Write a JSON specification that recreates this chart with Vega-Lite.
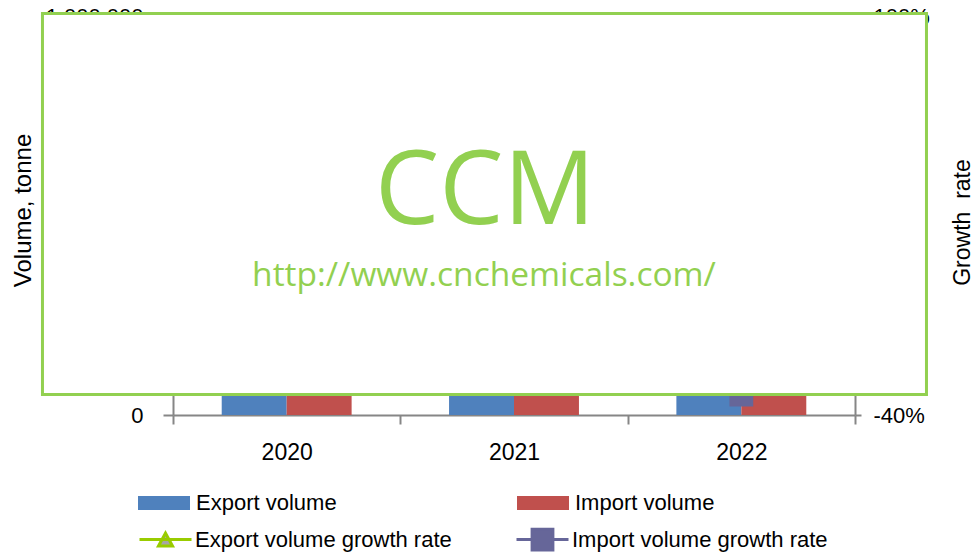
{
  "$schema": "https://vega.github.io/schema/vega-lite/v6.json",
  "width": 682,
  "height": 399,
  "autosize": "none",
  "padding": {"left": 173, "top": 16, "right": 119, "bottom": 137},
  "background": "white",
  "config": {
    "font": "Liberation Sans",
    "view": {"stroke": null},
    "axis": {"labelFont": "Liberation Sans", "labelColor": "#000000", "titleFont": "Liberation Sans", "titleColor": "#000000", "titleFontWeight": "normal", "domainColor": "#868686", "tickColor": "#868686", "domainWidth": 2, "tickWidth": 2, "grid": false},
    "legend": {"labelFont": "Liberation Sans", "labelColor": "#000000", "padding": 0, "labelLimit": 0}
  },
  "datasets": {
    "volume": [
      {"year": "2020", "series": "Export volume", "value": 620000},
      {"year": "2020", "series": "Import volume", "value": 480000},
      {"year": "2021", "series": "Export volume", "value": 705000},
      {"year": "2021", "series": "Import volume", "value": 520000},
      {"year": "2022", "series": "Export volume", "value": 560000},
      {"year": "2022", "series": "Import volume", "value": 349400}
    ],
    "growth": [
      {"year": "2020", "series": "Export volume growth rate", "rate": 0.215},
      {"year": "2021", "series": "Export volume growth rate", "rate": 0.137},
      {"year": "2022", "series": "Export volume growth rate", "rate": -0.206},
      {"year": "2020", "series": "Import volume growth rate", "rate": 0.052},
      {"year": "2021", "series": "Import volume growth rate", "rate": 0.083},
      {"year": "2022", "series": "Import volume growth rate", "rate": -0.328}
    ]
  },
  "layer": [
    {
      "data": {"name": "volume"},
      "mark": {"type": "bar"},
      "encoding": {
        "x": {"field": "year", "type": "nominal", "scale": {"paddingInner": 0, "paddingOuter": 0},
              "axis": {"title": null, "labelAngle": 0, "tickBand": "extent", "tickSize": 9, "labelPadding": 17, "labelFontSize": 23}},
        "xOffset": {"field": "series", "type": "nominal", "scale": {"paddingInner": 0, "paddingOuter": 0.75}},
        "y": {"field": "value", "type": "quantitative", "scale": {"domain": [0, 1000000], "nice": false},
              "axis": {"orient": "left", "title": "Volume, tonne", "format": ",d", "tickCount": 5, "tickSize": 10, "labelPadding": 20, "labelFontSize": 22,
                       "titleFontSize": 24, "titleAngle": -90, "titleX": -143, "titleY": 194, "titleBaseline": "alphabetic", "titleAlign": "center"}},
        "color": {"field": "series", "type": "nominal",
                  "scale": {"domain": ["Export volume", "Import volume"], "range": ["#4F81BD", "#C0504D"]},
                  "legend": {"title": null, "orient": "none", "legendX": -35, "legendY": 461, "direction": "horizontal", "columns": 2, "columnPadding": 180,
                             "symbolType": "M-1,-0.27H1V0.27H-1Z", "symbolSize": 2704, "symbolStrokeWidth": 0, "labelFontSize": 22, "labelOffset": 6}}
      }
    },
    {
      "data": {"name": "growth"},
      "layer": [
        {
          "mark": {"type": "line", "strokeWidth": 3},
          "encoding": {
            "x": {"field": "year", "type": "nominal", "scale": {"type": "point", "padding": 0.5}, "axis": null},
            "y": {"field": "rate", "type": "quantitative", "scale": {"domain": [-0.4, 1.0], "nice": false},
                  "axis": {"orient": "right", "title": "Growth\u00a0 rate", "values": [-0.4, -0.2, 0, 0.2, 0.4, 0.6, 0.8, 1.0],
                           "labelExpr": "replace(format(datum.value, '.0%'), '\u2212', '-')", "tickSize": 6, "labelPadding": 12, "labelFontSize": 22,
                           "titleFontSize": 23, "titleAngle": -90, "titleX": 114, "titleY": 206, "titleBaseline": "alphabetic", "titleAlign": "center"}},
            "stroke": {"field": "series", "type": "nominal",
                       "scale": {"domain": ["Export volume growth rate", "Import volume growth rate"], "range": ["#99CC00", "#666699"]},
                       "legend": {"title": null, "orient": "none", "legendX": -35, "legendY": 496, "direction": "horizontal", "columns": 2, "columnPadding": 58,
                                  "symbolSize": 2704, "symbolStrokeWidth": 3, "labelFontSize": 22, "labelOffset": 2, "labelLimit": 0}}
          }
        },
        {
          "mark": {"type": "point", "filled": true, "opacity": 1, "size": 2704, "strokeWidth": 3},
          "encoding": {
            "x": {"field": "year", "type": "nominal", "scale": {"type": "point", "padding": 0.5}, "axis": null},
            "y": {"field": "rate", "type": "quantitative"},
            "stroke": {"field": "series", "type": "nominal",
                       "legend": {"title": null, "orient": "none", "legendX": -35, "legendY": 496, "direction": "horizontal", "columns": 2, "columnPadding": 58,
                                  "symbolSize": 2704, "symbolStrokeWidth": 3, "labelFontSize": 22, "labelOffset": 2, "labelLimit": 0}},
            "fill": {"field": "series", "type": "nominal",
                     "scale": {"domain": ["Export volume growth rate", "Import volume growth rate"], "range": ["#A6A6A6", "#666699"]},
                     "legend": {"title": null, "orient": "none", "legendX": -35, "legendY": 496, "direction": "horizontal", "columns": 2, "columnPadding": 58,
                                "symbolSize": 2704, "symbolStrokeWidth": 3, "labelFontSize": 22, "labelOffset": 2, "labelLimit": 0}},
            "shape": {"field": "series", "type": "nominal",
                      "scale": {"domain": ["Export volume growth rate", "Import volume growth rate"],
                                "range": ["M-1,0H1M-0.27,0.25L0,-0.25L0.27,0.25ZM0,-0.4L0,-0.4M0,0.4L0,0.4", "M-1,0H1M-0.4,-0.4H0.4V0.4H-0.4Z"]},
                      "legend": {"title": null, "orient": "none", "legendX": -35, "legendY": 496, "direction": "horizontal", "columns": 2, "columnPadding": 58,
                                 "symbolSize": 2704, "symbolStrokeWidth": 3, "labelFontSize": 22, "labelOffset": 2, "labelLimit": 0}}
          }
        }
      ]
    },
    {
      "data": {"values": [{}]},
      "layer": [
        {
          "mark": {"type": "rect", "fill": "white", "stroke": "#92D050", "strokeWidth": 3},
          "encoding": {
            "x": {"datum": -0.1914, "type": "quantitative", "scale": {"domain": [0, 1], "nice": false, "zero": false}, "axis": null},
            "x2": {"datum": 1.1048},
            "y": {"datum": 0.0514, "type": "quantitative", "scale": {"domain": [0, 1], "nice": false, "zero": false}, "axis": null},
            "y2": {"datum": 1.0063}
          }
        },
        {
          "mark": {"type": "text", "font": "Open Sans", "fontSize": 102, "color": "#92D050", "baseline": "alphabetic", "align": "center"},
          "encoding": {
            "x": {"datum": 0.4575, "type": "quantitative"},
            "y": {"datum": 0.478, "type": "quantitative"},
            "text": {"value": "CCM"}
          }
        },
        {
          "mark": {"type": "text", "font": "Open Sans", "fontSize": 33.5, "color": "#92D050", "baseline": "alphabetic", "align": "center"},
          "encoding": {
            "x": {"datum": 0.456, "type": "quantitative"},
            "y": {"datum": 0.3235, "type": "quantitative"},
            "text": {"value": "http://www.cnchemicals.com/"}
          }
        }
      ]
    }
  ],
  "resolve": {"scale": {"x": "independent", "y": "independent"}}
}
